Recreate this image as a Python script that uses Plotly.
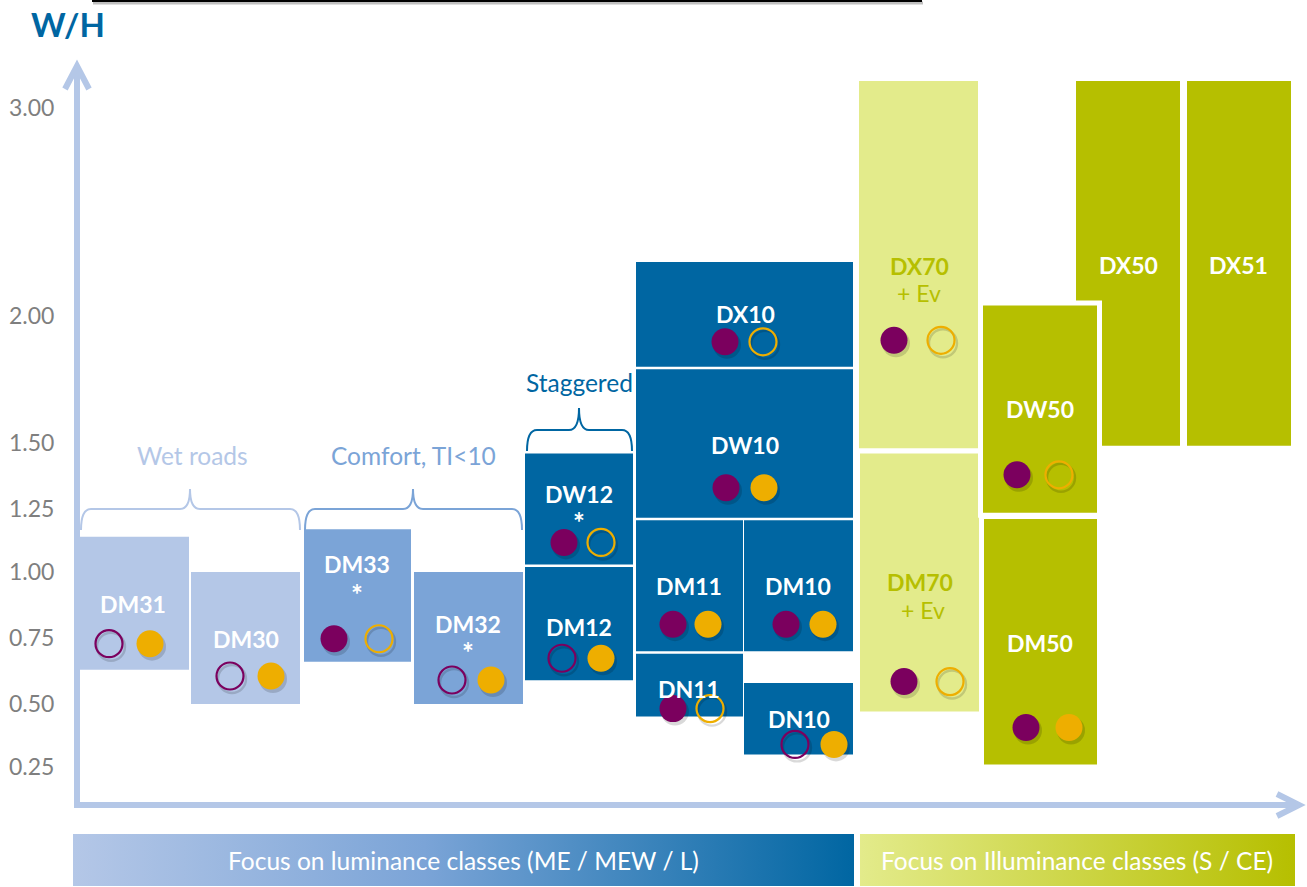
import numpy as np
import plotly.graph_objects as go

# ---------------- data ----------------
tick_values = [0.25, 0.50, 0.75, 1.00, 1.25, 1.50, 2.00, 3.00]
tick_labels = ["0.25", "0.50", "0.75", "1.00", "1.25", "1.50", "2.00", "3.00"]

box_names = ["DM31", "DM30", "DM33", "DM32", "DW12", "DM12", "DX10", "DW10",
             "DM11", "DM10", "DN11", "DN10", "DX70", "DM70", "DX50", "DX51",
             "DW50", "DM50"]
wh_low = [0.63, 0.50, 0.66, 0.50, 1.03, 0.59, 1.80, 1.215,
          0.70, 0.70, 0.45, 0.30, 1.48, 0.47, 1.49, 1.49,
          1.235, 0.26]
wh_high = [1.14, 1.00, 1.17, 1.00, 1.46, 1.02, 2.26, 1.79,
           1.205, 1.205, 0.69, 0.58, 3.13, 1.46, 3.13, 3.13,
           2.05, 1.21]
box_family = ["wet", "wet", "comfort", "comfort", "lum", "lum", "lum", "lum",
              "lum", "lum", "lum", "lum", "ill_light", "ill_light", "ill", "ill",
              "ill", "ill"]
box_notes = ["", "", "*", "*", "*", "", "", "",
             "", "", "", "", "+ Ev", "+ Ev", "", "",
             "", ""]
# circle states: 1 = filled, 0 = open, None = no circle
purple_state = [0, 0, 1, 0, 1, 0, 1, 1, 1, 1, 1, 0, 1, 1, None, None, 1, 1]
gold_state = [1, 1, 0, 1, 0, 1, 0, 1, 1, 1, 0, 1, 0, 0, None, None, 0, 1]

group_labels = ["Wet roads", "Comfort, TI<10", "Staggered"]
band_labels = ["Focus on luminance classes (ME / MEW / L)",
               "Focus on Illuminance classes (S / CE)"]
axis_title = "W/H"

# ---------------- layout / style (positions in px of the 1307x887 canvas) ----------------
W, H = 1307, 887
# non-linear W/H scale of the drawing: knot value -> pixel row
knot_v = [0.0, 0.25, 0.50, 0.75, 1.00, 1.25, 1.50, 2.00, 3.00, 3.5]
knot_p = [830, 767, 704, 638, 572, 509, 443, 316, 108, 4]


def yax(v):
    """W/H value -> axis units (pixels above the bottom edge)."""
    return H - float(np.interp(v, knot_v, knot_p))


def ypx(p):
    return H - p


box_x0 = [80, 191, 304, 414, 525, 525, 636, 636, 636, 744, 636, 744, 859, 860, 1076, 1187, 983, 984]
box_x1 = [189, 300, 411, 523, 633, 633, 853, 853, 743, 853, 743, 853, 978, 979, 1180, 1291, 1097, 1097]
label_x = [133, 246, 357, 468, 579, 579, 745, 745, 689, 798, 689, 799, 919, 920, 1128, 1238, 1040, 1040]
label_off = [66, 65, 98, 80, 70, 53, 53, 73, 65, 65, 28, 35, 182, 130, 181, 181, 104, 121]
note_off = [0, 0, 68, 52, 42, 0, 0, 0, 0, 0, 0, 0, 155, 102, 0, 0, 0, 0]
note_x = [0, 0, 357, 468, 579, 0, 0, 0, 0, 0, 0, 0, 919, 923, 0, 0, 0, 0]
circ_off = [26, 28, 23, 24, 22, 22, 25, 30, 27, 27, 8, 10, 108, 30, 0, 0, 38, 37]
purple_x = [109, 230, 334, 452, 564, 562, 725, 726, 673, 786, 673, 795, 894, 904, 0, 0, 1017, 1026]
gold_x = [150, 271, 379, 491, 601, 601, 763, 764, 708, 823, 710, 834, 941, 950, 0, 0, 1059, 1069]

C_WET = "#b4c7e7"
C_COMFORT = "#7ba4d7"
C_LUM = "#0066a2"
C_ILL_LIGHT = "#e3eb8b"
C_ILL = "#b6bf00"
C_PURPLE = "#7b005e"
C_GOLD = "#eeae00"
fam_color = {"wet": C_WET, "comfort": C_COMFORT, "lum": C_LUM,
             "ill_light": C_ILL_LIGHT, "ill": C_ILL}
fam_text = {"wet": "white", "comfort": "white", "lum": "white",
            "ill_light": C_ILL, "ill": "white"}
FONT = "Lato"

fig = go.Figure()
shapes = []
annotations = []

# boxes
for i, name in enumerate(box_names):
    y0, y1 = yax(wh_low[i]), yax(wh_high[i])
    if name == "DW50":
        shapes.append(dict(type="rect", xref="x", yref="y", x0=box_x0[i] - 5, x1=box_x1[i] + 5,
                           y0=y0 - 5, y1=y1 + 5, fillcolor="white", line=dict(width=0), layer="below"))
    shapes.append(dict(type="rect", xref="x", yref="y", x0=box_x0[i], x1=box_x1[i],
                       y0=y0, y1=y1, fillcolor=fam_color[box_family[i]],
                       line=dict(width=0), layer="below"))
    tcol = fam_text[box_family[i]]
    annotations.append(dict(x=label_x[i], y=y0 + label_off[i], xref="x", yref="y", text="<b>%s</b>" % name,
                            showarrow=False, font=dict(family=FONT, size=23, color=tcol),
                            xanchor="center", yanchor="middle"))
    if box_notes[i]:
        if box_notes[i] == "*":
            txt, fs = "<b>*</b>", 28
        else:
            txt, fs = box_notes[i], 23
        annotations.append(dict(x=note_x[i], y=y0 + note_off[i], xref="x", yref="y", text=txt,
                                showarrow=False, font=dict(family=FONT, size=fs, color=tcol),
                                xanchor="center", yanchor="middle"))


# circles
def add_circles(xs, ys, color, filled):
    sym = "circle" if filled else "circle-open"
    fig.add_trace(go.Scatter(x=[x + 2 for x in xs], y=[y - 3 for y in ys], mode="markers",
                             marker=dict(symbol=sym, size=28, color="rgba(0,0,0,0.15)",
                                         line=dict(width=0 if filled else 2.4, color="rgba(0,0,0,0.15)")),
                             hoverinfo="skip", showlegend=False))
    fig.add_trace(go.Scatter(x=xs, y=ys, mode="markers",
                             marker=dict(symbol=sym, size=27, color=color,
                                         line=dict(width=0 if filled else 2.2, color=color)),
                             hoverinfo="skip", showlegend=False))


for color, states, xs_all in [(C_PURPLE, purple_state, purple_x), (C_GOLD, gold_state, gold_x)]:
    for filled in (1, 0):
        xs = [xs_all[i] for i in range(len(box_names)) if states[i] == filled]
        ys = [yax(wh_low[i]) + circ_off[i] for i in range(len(box_names)) if states[i] == filled]
        if xs:
            add_circles(xs, ys, color, filled)


# braces
def brace(x0, x1, xm, yb, yh, yp, color):
    r = 10
    path = (f"M {x0},{ypx(yb)} Q {x0},{ypx(yh)} {x0 + r},{ypx(yh)} L {xm - r},{ypx(yh)} "
            f"Q {xm},{ypx(yh)} {xm},{ypx(yp)} Q {xm},{ypx(yh)} {xm + r},{ypx(yh)} "
            f"L {x1 - r},{ypx(yh)} Q {x1},{ypx(yh)} {x1},{ypx(yb)}")
    shapes.append(dict(type="path", xref="x", yref="y", path=path, line=dict(color=color, width=2)))


brace(81, 300, 190, 530, 509, 489, C_WET)
brace(305, 522, 413, 530, 509, 489, C_COMFORT)
brace(527, 632, 579, 451, 430, 408, C_LUM)

annotations.append(dict(x=192, y=ypx(455), xref="x", yref="y", text=group_labels[0], showarrow=False,
                        font=dict(family=FONT, size=24.5, color=C_WET)))
annotations.append(dict(x=413, y=ypx(455), xref="x", yref="y", text=group_labels[1], showarrow=False,
                        font=dict(family=FONT, size=24.5, color=C_COMFORT)))
annotations.append(dict(x=579, y=ypx(382), xref="x", yref="y", text=group_labels[2], showarrow=False,
                        font=dict(family=FONT, size=24.5, color=C_LUM)))

# axes arrows
AX = "#b4c7e7"
shapes.append(dict(type="line", xref="x", yref="y", x0=77, x1=77, y0=ypx(808), y1=ypx(68),
                   line=dict(color=AX, width=6)))
shapes.append(dict(type="path", xref="x", yref="y",
                   path=f"M 65,{ypx(89)} L 77,{ypx(66)} L 89,{ypx(89)}", line=dict(color=AX, width=6)))
shapes.append(dict(type="line", xref="x", yref="y", x0=74, x1=1298, y0=ypx(805), y1=ypx(805),
                   line=dict(color=AX, width=6)))
shapes.append(dict(type="path", xref="x", yref="y",
                   path=f"M 1277,{ypx(794)} L 1299,{ypx(805)} L 1277,{ypx(816)}", line=dict(color=AX, width=6)))

# top rule
shapes.append(dict(type="line", xref="x", yref="y", x0=93, x1=923, y0=ypx(3), y1=ypx(3),
                   line=dict(color="rgba(0,0,0,0.25)", width=3)))
shapes.append(dict(type="line", xref="x", yref="y", x0=92, x1=922, y0=ypx(1), y1=ypx(1),
                   line=dict(color="black", width=2)))

# bottom gradient bands
fig.add_trace(go.Scatter(x=[73, 854, 854, 73, 73], y=[ypx(834), ypx(834), ypx(886), ypx(886), ypx(834)],
                         mode="lines", line=dict(width=0), fill="toself",
                         fillgradient=dict(type="horizontal",
                                           colorscale=[[0, C_WET], [0.45, C_COMFORT], [1, C_LUM]]),
                         hoverinfo="skip", showlegend=False))
fig.add_trace(go.Scatter(x=[860, 1295, 1295, 860, 860], y=[ypx(834), ypx(834), ypx(886), ypx(886), ypx(834)],
                         mode="lines", line=dict(width=0), fill="toself",
                         fillgradient=dict(type="horizontal",
                                           colorscale=[[0, C_ILL_LIGHT], [1, C_ILL]]),
                         hoverinfo="skip", showlegend=False))
annotations.append(dict(x=463, y=ypx(860), xref="x", yref="y", text=band_labels[0], showarrow=False,
                        font=dict(family=FONT, size=24.5, color="white")))
annotations.append(dict(x=1077, y=ypx(860), xref="x", yref="y", text=band_labels[1], showarrow=False,
                        font=dict(family=FONT, size=24.5, color="white")))

# axis title
annotations.append(dict(x=68, y=ypx(24), xref="x", yref="y", text="<b>%s</b>" % axis_title, showarrow=False,
                        font=dict(family=FONT, size=33, color=C_LUM)))

fig.update_layout(
    width=W, height=H,
    margin=dict(l=0, r=0, t=0, b=0),
    paper_bgcolor="white", plot_bgcolor="white",
    shapes=shapes, annotations=annotations,
    xaxis=dict(range=[0, W], visible=False, fixedrange=True),
    yaxis=dict(range=[0, H], showgrid=False, zeroline=False, showline=False, fixedrange=True,
               tickmode="array", tickvals=[yax(v) for v in tick_values], ticktext=tick_labels,
               ticks="", ticklabelposition="inside", ticklabelstandoff=6,
               tickfont=dict(family=FONT, size=23, color="#7f7f7f")),
    showlegend=False,
)

fig.write_html("out.html", config={"displayModeBar": False},
               post_script="document.body.style.margin='0';document.body.style.overflow='hidden';")
